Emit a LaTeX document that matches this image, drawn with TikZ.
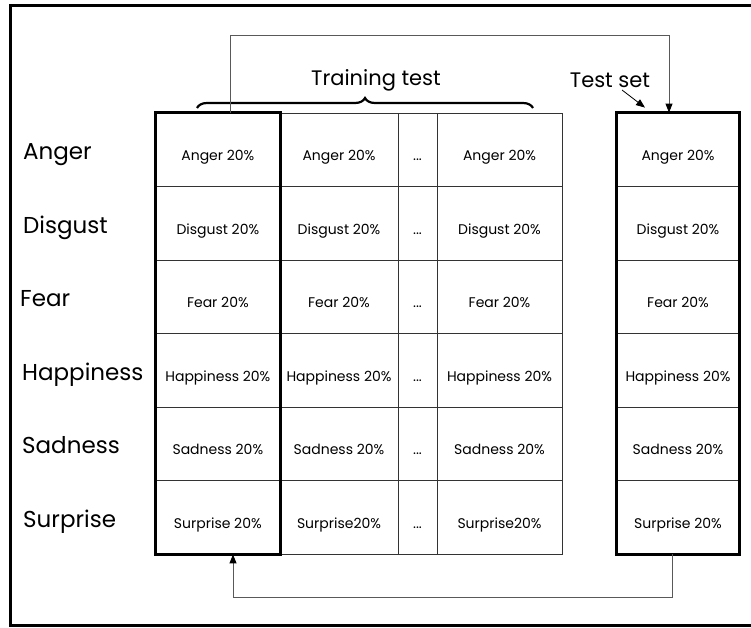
\documentclass[tikz,border=0pt]{standalone}
\usepackage{fontspec}
\setmainfont{Poppins}
\usetikzlibrary{arrows.meta,decorations.pathreplacing}
\tikzset{
  cell/.style={draw=black!80, line width=0.8pt, minimum height=73.5pt,
    inner sep=0pt, text height=22pt, text depth=0pt,
    font=\fontsize{14}{16}\selectfont},
  colA/.style={cell, minimum width=124.3pt},
  colB/.style={cell, minimum width=118pt},
  colC/.style={cell, minimum width=39pt},
  colD/.style={cell, minimum width=125pt},
  colT/.style={cell, minimum width=122pt},
  rowname/.style={anchor=west, inner sep=0pt, text height=20pt, text depth=0pt,
    font=\fontsize{23}{26}\selectfont},
  heading/.style={inner sep=0pt, font=\fontsize{21}{24}\selectfont},
  fold/.style={line width=2.5pt},
  link/.style={draw=black!65, line width=0.9pt,
    -{Triangle[color=black, length=9pt, width=7pt]}},
}
\begin{document}
\begin{tikzpicture}[x=1pt,y=-1pt]
\useasboundingbox (0,0) rectangle (751,627);
% frame
\draw[line width=3pt] (751,5.5) -- (10.5,5.5) -- (10.5,625) -- (751,625);
% row names
\node[rowname] (LA) at (23,149.75) {Anger};
\node[rowname] (LD) at (23,223.25) {Disgust};
\node[rowname] (LF) at (20,296.75) {Fear};
\node[rowname] (LH) at (22,370.25) {Happiness};
\node[rowname] (LS) at (22,443.75) {Sadness};
\node[rowname] (LU) at (23,517.25) {Surprise};
% first fold
\node[colA] (A1) at (217.85,149.75) {Anger 20\%};
\node[colA] (D1) at (217.85,223.25) {Disgust 20\%};
\node[colA] (F1) at (217.85,296.75) {Fear 20\%};
\node[colA] (H1) at (217.85,370.25) {Happiness 20\%};
\node[colA] (S1) at (217.85,443.75) {Sadness 20\%};
\node[colA] (U1) at (217.85,517.25) {Surprise 20\%};
% second fold
\node[colB] (A2) at (339,149.75) {Anger 20\%};
\node[colB] (D2) at (339,223.25) {Disgust 20\%};
\node[colB] (F2) at (339,296.75) {Fear 20\%};
\node[colB] (H2) at (339,370.25) {Happiness 20\%};
\node[colB] (S2) at (339,443.75) {Sadness 20\%};
\node[colB] (U2) at (339,517.25) {Surprise20\%};
% dots
\node[colC] (A3) at (417.5,149.75) {...};
\node[colC] (D3) at (417.5,223.25) {...};
\node[colC] (F3) at (417.5,296.75) {...};
\node[colC] (H3) at (417.5,370.25) {...};
\node[colC] (S3) at (417.5,443.75) {...};
\node[colC] (U3) at (417.5,517.25) {...};
% last fold
\node[colD] (A4) at (499.5,149.75) {Anger 20\%};
\node[colD] (D4) at (499.5,223.25) {Disgust 20\%};
\node[colD] (F4) at (499.5,296.75) {Fear 20\%};
\node[colD] (H4) at (499.5,370.25) {Happiness 20\%};
\node[colD] (S4) at (499.5,443.75) {Sadness 20\%};
\node[colD] (U4) at (499.5,517.25) {Surprise20\%};
% test set
\node[colT] (AT) at (678,149.75) {Anger 20\%};
\node[colT] (DT) at (678,223.25) {Disgust 20\%};
\node[colT] (FT) at (678,296.75) {Fear 20\%};
\node[colT] (HT) at (678,370.25) {Happiness 20\%};
\node[colT] (ST) at (678,443.75) {Sadness 20\%};
\node[colT] (UT) at (678,517.25) {Surprise 20\%};
% thick boxes
\draw[fold] (A1.north west) rectangle (U1.south east);
\draw[fold] (AT.north west) rectangle (UT.south east);
% headings
\node[heading] (TR) at (376,80) {Training test};
\node[heading] (TS) at (610,80) {Test set};
\draw[line width=2.2pt, decorate, decoration={brace, amplitude=10pt}]
  (197,108) -- (533,108);
\draw[-{Triangle[length=9pt, width=7pt]}, line width=0.8pt]
  ([xshift=12pt,yshift=-10pt]TS.center) -- ([xshift=-33pt,yshift=5pt]AT.north);
% loops
\coordinate (UL) at (230,35);%
\coordinate (UR) at (669,35);%
\coordinate (DL) at (233,597);%
\coordinate (DR) at (672,597);%
\draw[link] (A1.north -| UL) -- (UL) -- (UR) -- (AT.north -| UR);
\draw[link] (UT.south -| DR) -- (DR) -- (DL) -- (U1.south -| DL);
\end{tikzpicture}
\end{document}
